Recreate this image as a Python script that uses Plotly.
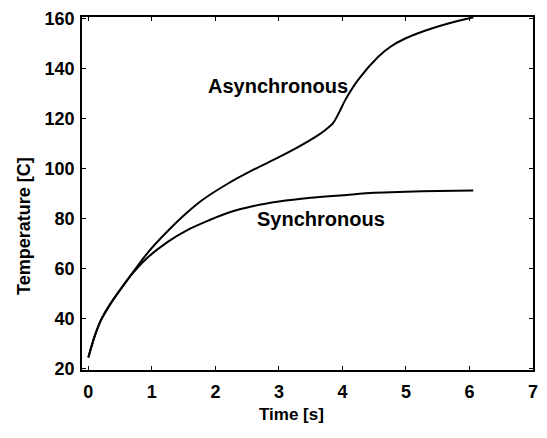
import plotly.graph_objects as go

# Heating curves: temperature [C] versus time [s]
async_time = [0, 0.1, 0.2, 0.35, 0.5, 0.7, 0.95, 1.25, 1.55, 1.8, 2.2, 2.6,
              3.0, 3.3, 3.6, 3.75, 3.85, 3.95, 4.05, 4.25, 4.56, 4.75, 4.98,
              5.44, 5.96, 6.06]
async_temp = [24.5, 33, 39.5, 46, 51.5, 58.5, 66.8, 75, 82.3, 87.5, 94, 99.5,
              104.5, 108.5, 113, 115.8, 118, 122.5, 127.6, 135.5, 144.5, 148.5,
              151.8, 156.2, 159.8, 160.3]

sync_time = [0, 0.1, 0.2, 0.35, 0.5, 0.7, 0.95, 1.25, 1.55, 1.9, 2.2, 2.6,
             3.0, 3.5, 4.0, 4.5, 5.0, 5.5, 6.06]
sync_temp = [24.5, 33, 39.5, 46, 51.5, 58.2, 64.8, 70.7, 75.3, 79.3, 82.3, 85,
             86.8, 88.3, 89.3, 90.3, 90.7, 91, 91.2]

x_ticks = [0, 1, 2, 3, 4, 5, 6, 7]
y_ticks = [20, 40, 60, 80, 100, 120, 140, 160]

FONT = "Liberation Sans, Arial, sans-serif"

fig = go.Figure()
fig.add_trace(go.Scatter(x=async_time, y=async_temp, mode="lines",
                         line=dict(color="black", width=2, shape="spline", smoothing=0.9),
                         name="Asynchronous", showlegend=False))
fig.add_trace(go.Scatter(x=sync_time, y=sync_temp, mode="lines",
                         line=dict(color="black", width=2, shape="spline", smoothing=0.9),
                         name="Synchronous", showlegend=False))

label_font = dict(family=FONT, size=20, color="black", weight="bold")
fig.add_annotation(x=2.98, y=133, text="Asynchronous", showarrow=False, font=label_font)
fig.add_annotation(x=3.66, y=79.7, text="Synchronous", showarrow=False, font=label_font)

# axis titles placed in paper coordinates around the plot frame
fig.add_annotation(xref="paper", yref="paper", x=(294 - 82) / 456, y=-(415 - 370) / 361,
                   text="Time [s]", showarrow=False, yanchor="middle",
                   font=dict(family=FONT, size=17, color="black", weight="bold"))
fig.add_annotation(xref="paper", yref="paper", x=-(82 - 24) / 456, y=(370 - 223) / 361,
                   text="Temperature [C]", showarrow=False, textangle=-90,
                   xanchor="center", yanchor="middle",
                   font=dict(family=FONT, size=18, color="black", weight="bold"))

axis_common = dict(showline=True, linecolor="black", linewidth=1.5, mirror="allticks",
                   ticks="inside", ticklen=4, tickwidth=1, tickcolor="black",
                   showgrid=False, zeroline=False,
                   tickfont=dict(family=FONT, size=18, color="black", weight="bold"))

fig.update_xaxes(range=[-0.1, 7], tickvals=x_ticks, ticklabelstandoff=5, **axis_common)
fig.update_yaxes(range=[19.5, 160.5], tickvals=y_ticks, ticklabelstandoff=2, **axis_common)

fig.update_layout(width=547, height=438, margin=dict(l=82, r=9, t=9, b=68),
                  plot_bgcolor="white", paper_bgcolor="white")

fig.write_html("out.html")
